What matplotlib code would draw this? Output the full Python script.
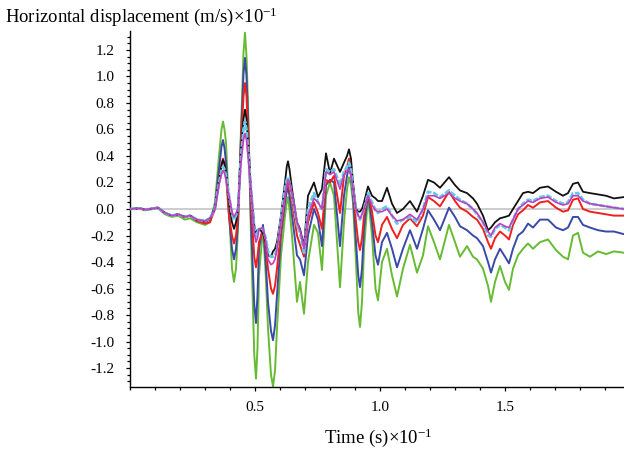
import numpy as np
import matplotlib
matplotlib.use("Agg")
import matplotlib.pyplot as plt
from matplotlib.ticker import MultipleLocator, FormatStrFormatter

plt.rcParams['font.family'] = ['Liberation Serif', 'DejaVu Serif']
plt.rcParams['mathtext.fontset'] = 'custom'
plt.rcParams['mathtext.rm'] = 'Liberation Serif'

# time (s x 10^-1)
t = [0.000, 0.040, 0.060, 0.112, 0.140, 0.168, 0.192, 0.220, 0.240, 0.268,
     0.300, 0.320, 0.340, 0.356, 0.366, 0.372, 0.378, 0.384, 0.396, 0.408,
     0.416, 0.424, 0.432, 0.444, 0.454, 0.460, 0.466, 0.472, 0.484, 0.497,
     0.504, 0.510, 0.516, 0.532, 0.543, 0.552, 0.564, 0.572, 0.580, 0.588,
     0.604, 0.620, 0.627, 0.632, 0.638, 0.648, 0.668, 0.680, 0.696, 0.712,
     0.736, 0.752, 0.768, 0.784, 0.800, 0.816, 0.840, 0.856, 0.868, 0.876,
     0.884, 0.892, 0.904, 0.913, 0.920, 0.928, 0.936, 0.952, 0.968, 0.982,
     0.992, 1.008, 1.028, 1.048, 1.068, 1.092, 1.120, 1.148, 1.172, 1.192,
     1.216, 1.240, 1.276, 1.300, 1.320, 1.348, 1.372, 1.388, 1.412, 1.432,
     1.444, 1.460, 1.480, 1.500, 1.516, 1.532, 1.552, 1.572, 1.592, 1.612,
     1.640, 1.672, 1.704, 1.732, 1.752, 1.772, 1.792, 1.812, 1.840, 1.872,
     1.904, 1.936, 1.976]

black = [0.00, 0.005, -0.005, 0.01, -0.03, -0.05, -0.04, -0.06, -0.05, -0.08,
         -0.09, -0.07, 0.00, 0.22, 0.33, 0.37, 0.34, 0.28, 0.05, -0.10,
         -0.15, -0.10, 0.00, 0.45, 0.68, 0.75, 0.68, 0.50, 0.15, -0.12,
         -0.18, -0.16, -0.15, -0.18, -0.25, -0.35, -0.36, -0.32, -0.30, -0.25,
         -0.05, 0.20, 0.32, 0.36, 0.30, 0.15, -0.10, -0.15, -0.28, 0.10,
         0.20, 0.09, 0.15, 0.42, 0.27, 0.38, 0.28, 0.35, 0.40, 0.45,
         0.38, 0.20, 0.00, -0.02, -0.02, 0.00, 0.05, 0.17, 0.10, 0.08,
         0.06, 0.06, 0.16, 0.04, -0.03, 0.00, 0.06, -0.02, 0.10, 0.22,
         0.20, 0.16, 0.24, 0.18, 0.14, 0.12, 0.08, 0.04, -0.05, -0.16,
         -0.14, -0.10, -0.07, -0.06, -0.05, 0.00, 0.06, 0.12, 0.13, 0.12,
         0.16, 0.17, 0.13, 0.10, 0.12, 0.19, 0.20, 0.13, 0.12, 0.11,
         0.10, 0.08, 0.09]

cyan = [0.00, 0.005, -0.005, 0.01, -0.03, -0.05, -0.04, -0.06, -0.05, -0.08,
        -0.09, -0.07, 0.00, 0.20, 0.29, 0.32, 0.30, 0.25, 0.10, -0.04,
        -0.08, -0.05, 0.00, 0.40, 0.60, 0.66, 0.60, 0.45, 0.15, -0.14,
        -0.21, -0.18, -0.15, -0.15, -0.22, -0.32, -0.36, -0.36, -0.35, -0.30,
        -0.08, 0.15, 0.22, 0.24, 0.20, 0.10, -0.12, -0.18, -0.33, 0.00,
        0.12, 0.05, 0.00, 0.30, 0.28, 0.30, 0.18, 0.28, 0.32, 0.35,
        0.30, 0.15, 0.00, -0.06, -0.08, -0.05, 0.00, 0.12, 0.05, -0.01,
        -0.03, 0.00, 0.02, -0.05, -0.11, -0.08, -0.06, -0.10, 0.00, 0.13,
        0.12, 0.09, 0.14, 0.10, 0.07, 0.04, 0.00, -0.04, -0.10, -0.20,
        -0.21, -0.15, -0.12, -0.14, -0.16, -0.08, 0.00, 0.04, 0.07, 0.06,
        0.09, 0.10, 0.06, 0.04, 0.05, 0.12, 0.12, 0.07, 0.04, 0.03,
        0.02, 0.01, 0.00]

magenta = [0.00, 0.005, -0.005, 0.01, -0.03, -0.05, -0.04, -0.06, -0.05, -0.08,
           -0.09, -0.07, 0.00, 0.18, 0.26, 0.29, 0.27, 0.22, 0.10, -0.02,
           -0.06, -0.03, 0.00, 0.35, 0.52, 0.57, 0.52, 0.40, 0.15, -0.18,
           -0.25, -0.22, -0.15, -0.14, -0.24, -0.38, -0.42, -0.41, -0.38, -0.30,
           -0.10, 0.10, 0.18, 0.22, 0.20, 0.12, -0.10, -0.16, -0.30, -0.05,
           0.08, 0.05, 0.00, 0.28, 0.26, 0.28, 0.15, 0.26, 0.28, 0.30,
           0.26, 0.15, 0.00, -0.05, -0.07, -0.04, 0.00, 0.10, 0.03, -0.01,
           -0.02, -0.02, 0.00, -0.05, -0.09, -0.08, -0.04, -0.08, 0.00, 0.10,
           0.10, 0.08, 0.12, 0.08, 0.06, 0.04, 0.00, -0.03, -0.10, -0.17,
           -0.20, -0.14, -0.11, -0.13, -0.14, -0.08, 0.00, 0.03, 0.06, 0.05,
           0.08, 0.09, 0.05, 0.03, 0.04, 0.10, 0.10, 0.06, 0.04, 0.03,
           0.02, 0.01, 0.00]

red = [0.00, 0.005, -0.005, 0.01, -0.03, -0.05, -0.04, -0.06, -0.05, -0.09,
       -0.11, -0.10, 0.00, 0.22, 0.34, 0.38, 0.34, 0.25, -0.05, -0.20,
       -0.26, -0.20, -0.05, 0.50, 0.85, 0.95, 0.85, 0.60, 0.05, -0.36,
       -0.44, -0.36, -0.25, -0.16, -0.28, -0.45, -0.60, -0.64, -0.58, -0.45,
       -0.15, 0.10, 0.17, 0.19, 0.15, 0.05, -0.20, -0.27, -0.36, -0.10,
       0.05, -0.03, -0.15, 0.22, 0.20, 0.25, -0.03, 0.25, 0.32, 0.38,
       0.32, 0.15, -0.10, -0.25, -0.31, -0.22, -0.05, 0.12, -0.02, -0.20,
       -0.25, -0.12, -0.06, -0.15, -0.22, -0.12, -0.07, -0.13, -0.05, 0.09,
       0.06, 0.02, 0.13, 0.06, 0.01, -0.02, -0.06, -0.08, -0.15, -0.25,
       -0.30, -0.22, -0.17, -0.20, -0.23, -0.12, -0.04, -0.01, 0.03, 0.01,
       0.05, 0.06, 0.01, -0.02, -0.01, 0.07, 0.08, 0.00, -0.02, -0.03,
       -0.04, -0.05, -0.05]

blue = [0.00, 0.005, -0.005, 0.01, -0.03, -0.05, -0.04, -0.06, -0.05, -0.09,
        -0.10, -0.08, 0.02, 0.30, 0.47, 0.52, 0.46, 0.35, -0.05, -0.30,
        -0.38, -0.30, -0.10, 0.55, 1.02, 1.14, 1.00, 0.70, -0.10, -0.72,
        -0.86, -0.65, -0.30, -0.12, -0.40, -0.70, -0.92, -0.99, -0.88, -0.65,
        -0.20, 0.05, 0.13, 0.16, 0.10, -0.05, -0.35, -0.38, -0.50, -0.20,
        0.00, -0.08, -0.28, 0.18, 0.22, 0.20, -0.28, 0.10, 0.25, 0.32,
        0.25, 0.10, -0.25, -0.50, -0.59, -0.45, -0.15, 0.12, -0.10, -0.35,
        -0.42, -0.25, -0.18, -0.30, -0.44, -0.30, -0.16, -0.30, -0.15, -0.01,
        -0.08, -0.16, 0.01, -0.06, -0.13, -0.16, -0.20, -0.22, -0.28, -0.40,
        -0.48, -0.38, -0.30, -0.36, -0.41, -0.30, -0.20, -0.17, -0.11, -0.14,
        -0.08, -0.08, -0.14, -0.16, -0.14, -0.06, -0.06, -0.12, -0.14, -0.16,
        -0.17, -0.17, -0.19]

green = [0.00, 0.00, -0.01, 0.005, -0.04, -0.06, -0.05, -0.08, -0.07, -0.10,
         -0.12, -0.10, 0.05, 0.40, 0.60, 0.66, 0.60, 0.50, 0.00, -0.45,
         -0.55, -0.45, -0.15, 0.60, 1.18, 1.33, 1.15, 0.80, -0.20, -1.10,
         -1.28, -1.05, -0.50, -0.14, -0.50, -0.90, -1.25, -1.34, -1.22, -0.90,
         -0.35, -0.05, 0.05, 0.09, 0.00, -0.20, -0.70, -0.55, -0.79, -0.40,
         -0.12, -0.18, -0.46, 0.10, 0.20, 0.10, -0.59, -0.10, 0.15, 0.24,
         0.18, 0.05, -0.40, -0.78, -0.89, -0.70, -0.30, 0.09, -0.20, -0.60,
         -0.69, -0.40, -0.30, -0.50, -0.66, -0.45, -0.27, -0.48, -0.35, -0.13,
         -0.25, -0.38, -0.12, -0.25, -0.36, -0.28, -0.36, -0.38, -0.45, -0.58,
         -0.70, -0.55, -0.43, -0.55, -0.61, -0.45, -0.35, -0.30, -0.26, -0.30,
         -0.25, -0.23, -0.31, -0.36, -0.38, -0.20, -0.18, -0.33, -0.36, -0.32,
         -0.34, -0.32, -0.33]

fig = plt.figure(figsize=(6.24, 4.5), dpi=100)
ax = fig.add_axes([130 / 624, 1 - 387 / 450, 1 - 130 / 624, 356 / 450])

ax.axhline(0, color='#c8c8c8', lw=1.3, zorder=1)

line_kw = dict(solid_joinstyle='round', solid_capstyle='round')
ax.plot(t, green, color='#66bb33', lw=1.4, zorder=2, **line_kw)
ax.plot(t, blue, color='#3a4aa8', lw=1.4, zorder=3, **line_kw)
ax.plot(t, red, color='#ee2020', lw=1.4, zorder=4, **line_kw)
ax.plot(t, black, color='#111111', lw=1.3, zorder=5, **line_kw)
ax.plot(t, cyan, color='#66c8e8', lw=2.0, ls=(0, (2, 0.6)), zorder=6)
ax.plot(t, magenta, color='#c040c0', lw=1.2, zorder=7, **line_kw)

ax.set_xlim(0, 1.976)
ax.set_ylim(-1.343, 1.343)

for s in ['top', 'right']:
    ax.spines[s].set_visible(False)
for s in ['left', 'bottom']:
    ax.spines[s].set_linewidth(1.0)

ax.xaxis.set_major_locator(MultipleLocator(0.5))
ax.xaxis.set_minor_locator(MultipleLocator(0.1))
ax.yaxis.set_major_locator(MultipleLocator(0.2))
ax.yaxis.set_minor_locator(MultipleLocator(0.05))
ax.xaxis.set_major_formatter(FormatStrFormatter('%.1f'))
ax.yaxis.set_major_formatter(FormatStrFormatter('%.1f'))

xt = [v for v in ax.get_xticks() if 0.2 < v < 1.9]
ax.set_xticks(xt)
ax.tick_params(which='both', direction='out', width=0.9)
ax.tick_params(which='major', length=3, labelsize=11)
ax.tick_params(which='minor', length=2.5)
ax.tick_params(axis='y', pad=8)
ax.tick_params(axis='x', pad=7)

fig.text(5 / 624, 1 - 17 / 450,
         r'Horizontal displacement (m/s)×10$\mathregular{^{-1}}$',
         fontsize=13.5, ha='left', va='center')
fig.text(378 / 624, 1 - 438 / 450, r'Time (s)×10$\mathregular{^{-1}}$',
         fontsize=13.5, ha='center', va='center')

fig.savefig('out.png', dpi=100)
